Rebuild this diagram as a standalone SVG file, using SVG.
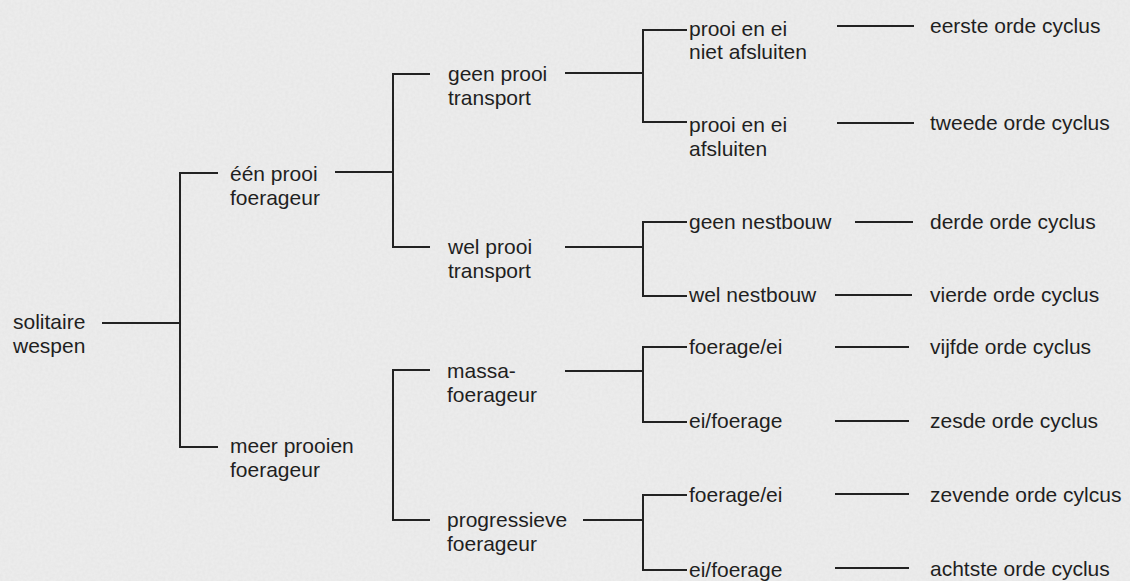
<svg xmlns="http://www.w3.org/2000/svg" width="1130" height="581" viewBox="0 0 1130 581">
<style>
text{font-family:"Liberation Sans",Arial,sans-serif;font-size:21px;fill:#1f1f1f}
.c line{stroke:#222;stroke-width:2;fill:none}
.c path{stroke:#222;stroke-width:2;fill:none}
</style>
<defs>
<filter id="grain" x="0" y="0" width="100%" height="100%">
<feTurbulence type="fractalNoise" baseFrequency="0.35" numOctaves="2" seed="4" result="n"/>
<feColorMatrix in="n" type="matrix" values="0 0 0 0 0.55  0 0 0 0 0.55  0 0 0 0 0.55  0 0 0 0.22 -0.06"/>
</filter>
</defs>
<rect width="1130" height="581" fill="#ececec"/>
<rect width="1130" height="581" filter="url(#grain)"/>
<g class="c" id="connectors">
<line x1="102" y1="323" x2="180" y2="323"/>
<path d="M218 173H180V447H218"/>
<line x1="335" y1="172" x2="393" y2="172"/>
<path d="M430 74H393V247H430"/>
<path d="M430 370H393V520H430"/>
<line x1="565" y1="73" x2="643" y2="73"/>
<line x1="565" y1="247" x2="643" y2="247"/>
<line x1="565" y1="371" x2="643" y2="371"/>
<line x1="583" y1="520" x2="643" y2="520"/>
<path d="M687 30H643V122H687"/>
<path d="M687 222H643V296H687"/>
<path d="M687 347H643V422H687"/>
<path d="M687 495H643V570H687"/>
<line x1="837" y1="26" x2="914" y2="26"/>
<line x1="837" y1="123" x2="914" y2="123"/>
<line x1="855" y1="222" x2="913" y2="222"/>
<line x1="835" y1="295" x2="912" y2="295"/>
<line x1="835" y1="347" x2="909" y2="347"/>
<line x1="835" y1="421" x2="909" y2="421"/>
<line x1="835" y1="494" x2="909" y2="494"/>
<line x1="835" y1="568" x2="909" y2="568"/>
</g>
<g id="n-solitaire"><text x="13" y="329">solitaire</text><text x="13" y="353">wespen</text></g>
<g id="n-een"><text x="230" y="181">één prooi</text><text x="230" y="205">foerageur</text></g>
<g id="n-meer"><text x="230" y="453">meer prooien</text><text x="230" y="477">foerageur</text></g>
<g id="n-geen-transport"><text x="448" y="81">geen prooi</text><text x="448" y="105">transport</text></g>
<g id="n-wel-transport"><text x="448" y="254">wel prooi</text><text x="448" y="278">transport</text></g>
<g id="n-massa"><text x="447" y="378">massa-</text><text x="447" y="402">foerageur</text></g>
<g id="n-progressieve"><text x="447" y="527">progressieve</text><text x="447" y="551">foerageur</text></g>
<g id="n-niet-afsluiten"><text x="689" y="36">prooi en ei</text><text x="689" y="59">niet afsluiten</text></g>
<g id="n-afsluiten"><text x="689" y="132">prooi en ei</text><text x="689" y="156">afsluiten</text></g>
<g id="n-geen-nest"><text x="689" y="229">geen nestbouw</text></g>
<g id="n-wel-nest"><text x="689" y="302">wel nestbouw</text></g>
<g id="n-fe1"><text x="689" y="354">foerage/ei</text></g>
<g id="n-ef1"><text x="689" y="428">ei/foerage</text></g>
<g id="n-fe2"><text x="689" y="502">foerage/ei</text></g>
<g id="n-ef2"><text x="689" y="577">ei/foerage</text></g>
<g id="n-c1"><text x="930" y="33">eerste orde cyclus</text></g>
<g id="n-c2"><text x="930" y="130">tweede orde cyclus</text></g>
<g id="n-c3"><text x="930" y="229">derde orde cyclus</text></g>
<g id="n-c4"><text x="930" y="302">vierde orde cyclus</text></g>
<g id="n-c5"><text x="930" y="354">vijfde orde cyclus</text></g>
<g id="n-c6"><text x="930" y="428">zesde orde cyclus</text></g>
<g id="n-c7"><text x="930" y="502">zevende orde cylcus</text></g>
<g id="n-c8"><text x="930" y="576">achtste orde cyclus</text></g>
</svg>
